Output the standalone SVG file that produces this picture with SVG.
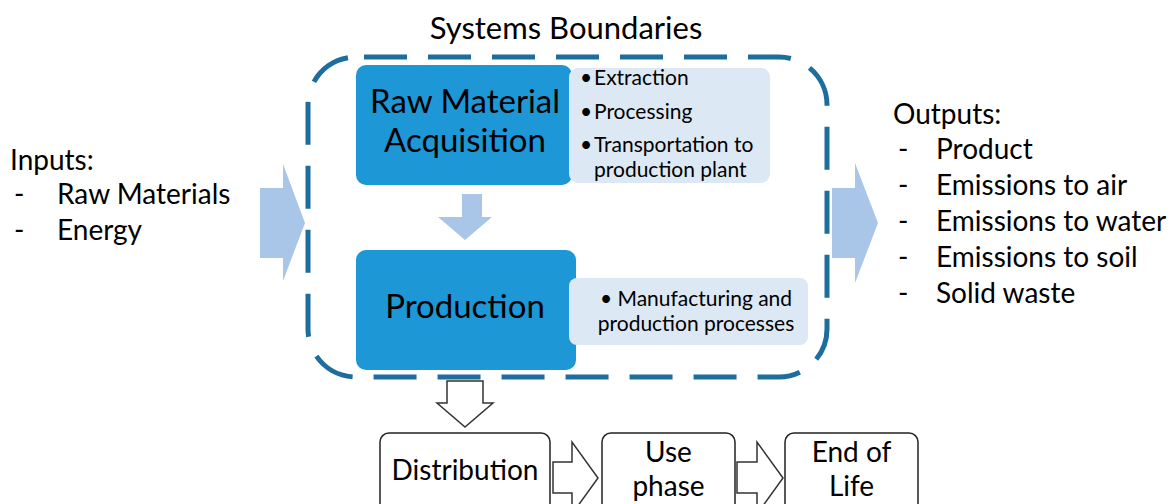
<svg xmlns="http://www.w3.org/2000/svg" width="1170" height="504" viewBox="0 0 1170 504">
  <style>
    text { font-family: Lato, "Open Sans", "Liberation Sans", sans-serif; fill: #000; }
    .big { font-size: 33px; }
    .side { font-size: 28px; }
    .note { font-size: 21px; }
    .step { font-size: 28px; }
    .stage { fill: #1d97d5; }
    .detail { fill: #dce9f5; }
    .flow { fill: #a9c6e8; }
    .hollow { fill: #fff; stroke: #333; stroke-width: 1.5; stroke-linejoin: miter; }
    .box { fill: #fff; stroke: #222; stroke-width: 1.5; }
  </style>

  <!-- title -->
  <text id="title" x="566" y="39" text-anchor="middle" style="font-size:31px">Systems Boundaries</text>

  <!-- inputs -->
  <g id="inputs" class="side">
    <text x="10" y="170">Inputs:</text>
    <text x="14" y="204">-</text><text x="57" y="204">Raw Materials</text>
    <text x="14" y="240">-</text><text x="57" y="240">Energy</text>
  </g>

  <!-- outputs -->
  <g id="outputs" class="side">
    <text x="893" y="124">Outputs:</text>
    <text x="898" y="159">-</text><text x="936" y="159">Product</text>
    <text x="898" y="195">-</text><text x="936" y="195">Emissions to air</text>
    <text x="898" y="231">-</text><text x="936" y="231">Emissions to water</text>
    <text x="898" y="267">-</text><text x="936" y="267">Emissions to soil</text>
    <text x="898" y="303">-</text><text x="936" y="303">Solid waste</text>
  </g>

  <!-- system boundary -->
  <rect id="boundary" x="308" y="57" width="519" height="320" rx="48" ry="48" fill="none" stroke="#1d6e9e" stroke-width="5" stroke-dasharray="43 21" stroke-dashoffset="-8"/>

  <!-- raw material acquisition -->
  <g id="raw-material">
    <rect class="stage" x="356" y="65" width="216" height="120" rx="10"/>
    <rect class="detail" x="569" y="68" width="201" height="115" rx="9"/>
    <text class="big" x="465" y="113" text-anchor="middle">Raw Material</text>
    <text class="big" x="465" y="152" text-anchor="middle">Acquisition</text>
    <g class="note">
      <text x="580" y="85">•</text><text x="594" y="85">Extraction</text>
      <text x="580" y="119">•</text><text x="594" y="119">Processing</text>
      <text x="580" y="152">•</text><text x="594" y="152">Transportation to</text>
      <text x="594" y="177">production plant</text>
    </g>
  </g>

  <!-- production -->
  <g id="production">
    <rect class="stage" x="356" y="250" width="220" height="120" rx="10"/>
    <rect class="detail" x="569" y="278" width="239" height="67" rx="8"/>
    <text class="big" x="465" y="318" text-anchor="middle">Production</text>
    <g class="note">
      <text x="696" y="306" text-anchor="middle">• Manufacturing and</text>
      <text x="696" y="331" text-anchor="middle">production processes</text>
    </g>
  </g>

  <!-- distribution, use, end of life -->
  <g id="distribution">
    <rect class="box" x="380" y="433" width="170" height="90" rx="9"/>
    <text class="step" x="465" y="480" text-anchor="middle">Distribution</text>
  </g>
  <g id="use-phase">
    <rect class="box" x="602" y="433" width="133" height="90" rx="9"/>
    <text class="step" x="668.5" y="462" text-anchor="middle">Use</text>
    <text class="step" x="668.5" y="496" text-anchor="middle">phase</text>
  </g>
  <g id="end-of-life">
    <rect class="box" x="785" y="433" width="133" height="90" rx="9"/>
    <text class="step" x="851.5" y="462" text-anchor="middle">End of</text>
    <text class="step" x="851.5" y="496" text-anchor="middle">Life</text>
  </g>

  <!-- connectors -->
  <g id="connectors">
    <!-- inputs into the boundary -->
    <polygon class="flow" points="260,188 283,188 283,164 305,223 283,281 283,258 260,258"/>
    <!-- outputs out of the boundary -->
    <polygon class="flow" points="832,188 855,188 855,163 878,223 855,283 855,258 832,258"/>
    <!-- raw material to production -->
    <polygon class="flow" points="462,194 482,194 482,217 492,217 465,240 438,217 462,217"/>
    <!-- production to distribution -->
    <polygon class="hollow" points="447,381 483,381 483,403 493,403 465,427 437,403 447,403"/>
    <!-- distribution to use -->
    <polygon class="hollow" points="553,462 572,462 572,442 598,478 572,514 572,493 553,493"/>
    <!-- use to end of life -->
    <polygon class="hollow" points="737,462 757,462 757,442 783,478 757,514 757,493 737,493"/>
  </g>
</svg>
